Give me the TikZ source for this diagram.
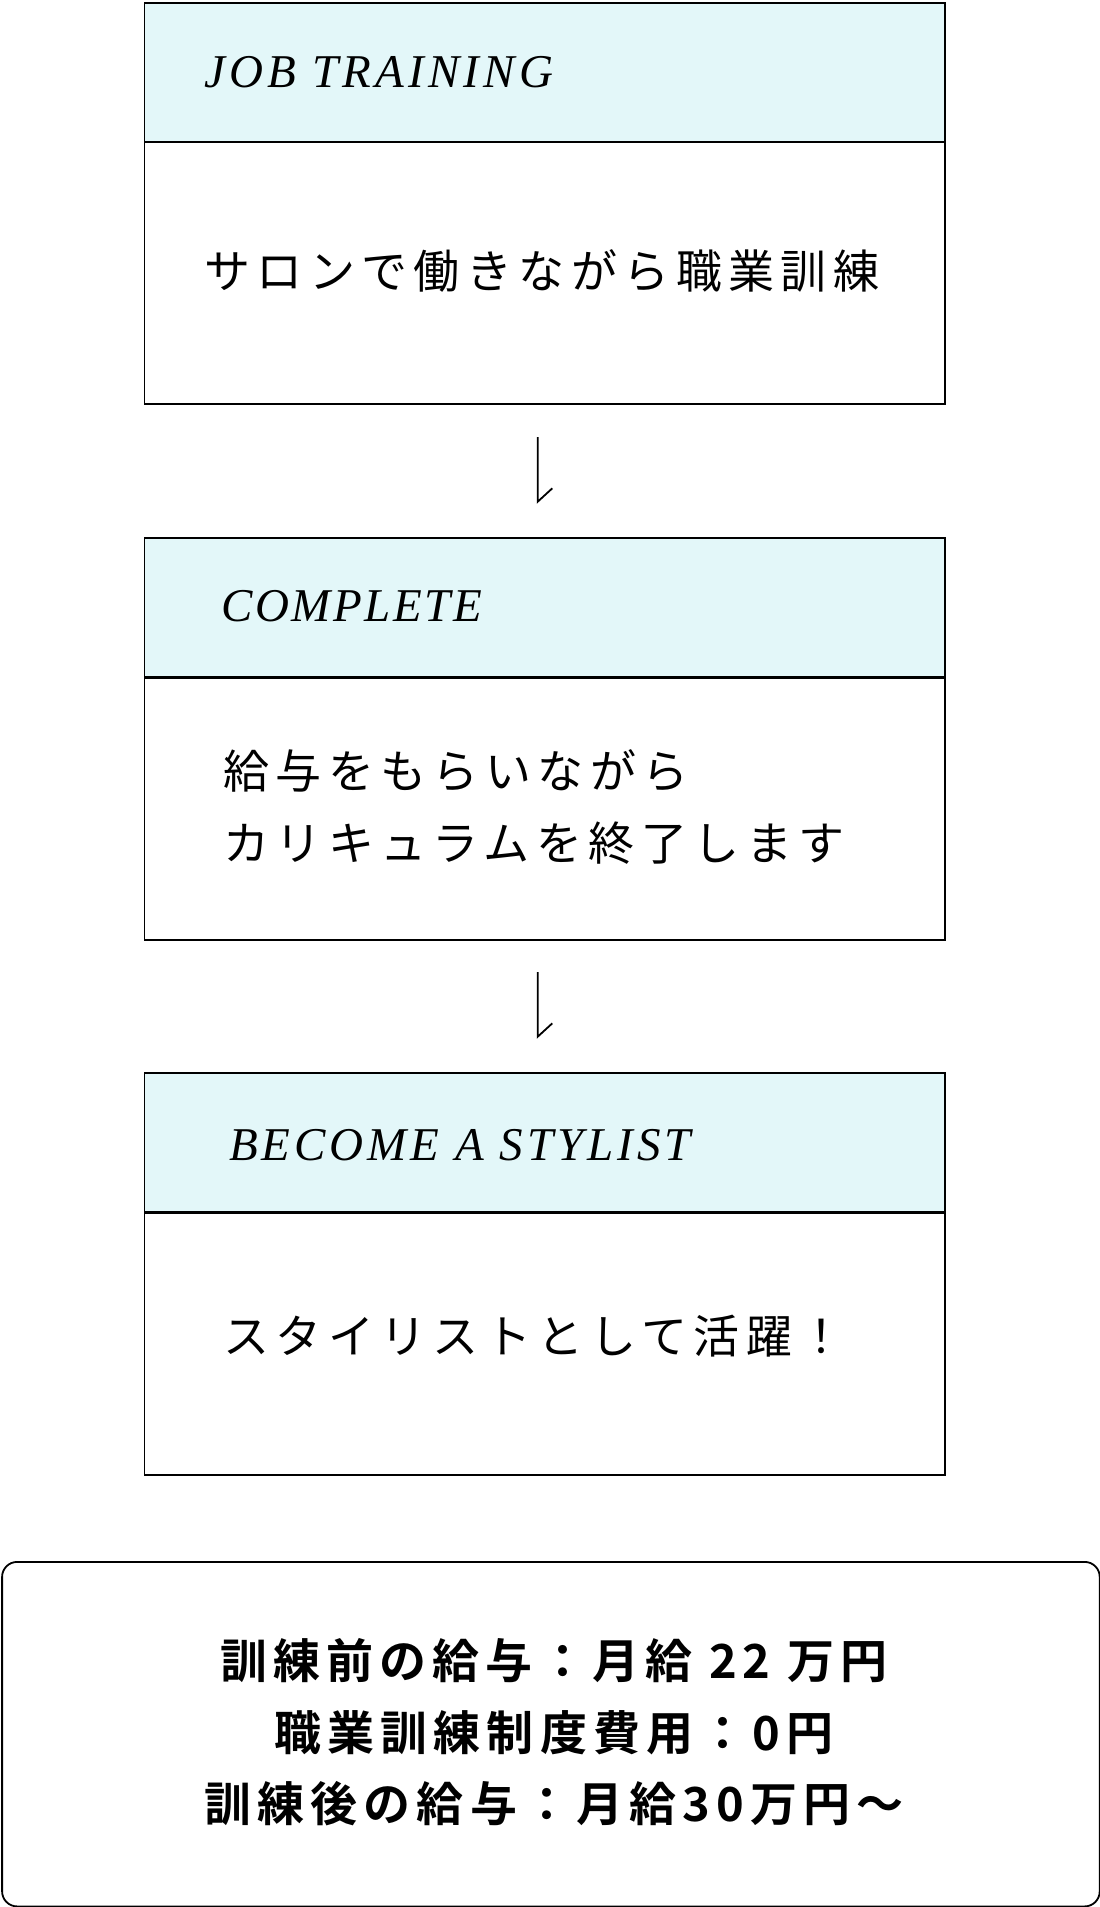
\documentclass[tikz,border=0pt]{standalone}
\usepackage{fontspec}
\newfontfamily\hdrfont[LetterSpace=7]{Liberation Serif}
\newfontfamily\jpfont[LetterSpace=14]{Noto Sans CJK JP}
\newfontfamily\jpbold[LetterSpace=13]{Noto Sans CJK JP Bold}
\definecolor{hdrfill}{HTML}{E3F7F9}
\begin{document}
\begin{tikzpicture}[x=1pt,y=-1pt,
  frame/.style={draw=black, line width=1.8pt, rectangle, inner sep=0pt, anchor=north west},
  hdrbox/.style={frame, fill=hdrfill, minimum width=800.6pt, minimum height=139pt},
  bodybox/.style={frame, fill=white, minimum width=800.6pt, minimum height=262pt},
  hdrtext/.style={anchor=base west, inner sep=0pt, font=\hdrfont\itshape\fontsize{47}{56}\selectfont},
  bodytext/.style={anchor=west, inner sep=0pt, font=\jpfont\fontsize{46}{56}\selectfont},
  sumtext/.style={anchor=center, inner sep=0pt, font=\jpbold\fontsize{47}{56}\selectfont},
  flow/.style={draw=black, line width=1.8pt}
]
\useasboundingbox (0,0) rectangle (1100,1907);
\fill[white] (0,0) rectangle (1100,1907);

% step 1
\node[bodybox] (b1) at (143.6,141) {};
\node[hdrbox] (h1) at (143.6,2) {};
\node[hdrtext] (t1) at (204,87) {\addfontfeature{LetterSpace=9}JOB TRAINING};
\node[bodytext] (d1) at (204,271) {サロンで働きながら職業訓練};

% step 2
\node[bodybox] (b2) at (143.6,677) {};
\node[hdrbox] (h2) at (143.6,537) {};
\node[hdrtext] (t2) at (221,621) {\addfontfeature{LetterSpace=5.4}COMPLETE};
\node[bodytext] (d2a) at (223,771) {給与をもらいながら};
\node[bodytext] (d2b) at (223,843) {カリキュラムを終了します};

% step 3
\node[bodybox] (b3) at (143.6,1212) {};
\node[hdrbox] (h3) at (143.6,1072) {};
\node[hdrtext] (t3) at (229,1160) {\addfontfeature{LetterSpace=8.5}BECOME A STYLIST};
\node[bodytext] (d3) at (223,1336) {スタイリストとして活躍！};

% arrows
\coordinate (a1s) at (537.7,437);
\coordinate (a1e) at (537.7,501.7);
\coordinate (a1t) at (552.3,488.3);
\draw[flow] (a1s) -- (a1e) -- (a1t);
\coordinate (a2s) at (537.7,972);
\coordinate (a2e) at (537.7,1036.7);
\coordinate (a2t) at (552.3,1023.3);
\draw[flow] (a2s) -- (a2e) -- (a2t);

% summary
\node[draw=black, line width=1.8pt, rounded corners=15pt, inner sep=0pt,
  minimum width=1097.6pt, minimum height=344.5pt, anchor=north west] (sum) at (1.2,1561) {};
\node[sumtext] (s1) at (554,1661) {訓練前の給与：月給 22 万円};
\node[sumtext] (s2) at (554,1733) {職業訓練制度費用：0円};
\node[sumtext] (s3) at (554,1804) {訓練後の給与：月給30万円～};
\end{tikzpicture}
\end{document}
